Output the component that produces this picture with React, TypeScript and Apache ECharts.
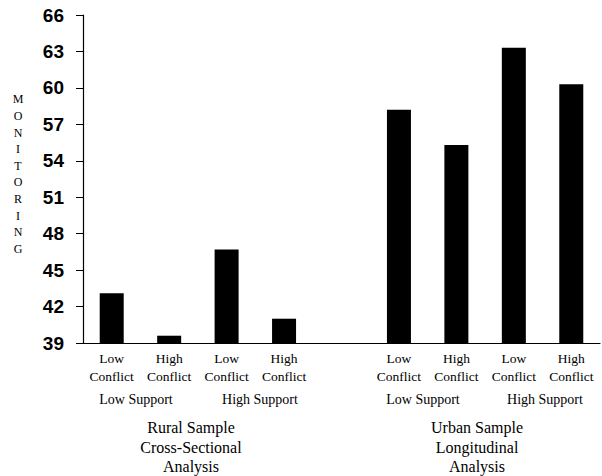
import React, { useEffect, useRef } from "react";
import * as echarts from "echarts";

const categories = [
  "Low\nConflict", "High\nConflict", "Low\nConflict", "High\nConflict",
  "",
  "Low\nConflict", "High\nConflict", "Low\nConflict", "High\nConflict",
];
const monitoring: (number | string)[] = [43.1, 39.6, 46.7, 41.0, "-", 58.2, 55.3, 63.3, 60.3];
const supportLabels = ["Low Support", "High Support", "Low Support", "High Support"];
const supportX = [136, 260, 423, 545];
const sampleLabels = ["Rural Sample\nCross-Sectional\nAnalysis", "Urban Sample\nLongitudinal\nAnalysis"];
const sampleX = [191, 477];
const yTitle = "MONITORING";

export default function App() {
  const ref = useRef<HTMLDivElement>(null);
  useEffect(() => {
    document.body.style.margin = "0";
    const chart = echarts.init(ref.current!, null, { renderer: "svg" });
    const serif = "'Liberation Serif', 'DejaVu Serif', serif";
    const graphics: any[] = [];
    supportLabels.forEach((t, i) => {
      graphics.push({
        type: "text", x: supportX[i], y: 399,
        style: { text: t, font: `14px ${serif}`, fill: "#000", textAlign: "center", textVerticalAlign: "middle" },
      });
    });
    sampleLabels.forEach((t, i) => {
      graphics.push({
        type: "text", x: sampleX[i], y: 418,
        style: { text: t, font: `16px ${serif}`, fill: "#000", textAlign: "center", lineHeight: 19.5 },
      });
    });
    graphics.push({
      type: "text", x: 18, y: 91,
      style: { text: yTitle.split("").join("\n"), font: `12px ${serif}`, fill: "#000", textAlign: "center", lineHeight: 16.6 },
    });
    chart.setOption({
      animation: false,
      grid: { left: 83, right: 2, top: 15, bottom: 133, containLabel: false },
      xAxis: {
        type: "category",
        data: categories,
        axisLine: { show: true, lineStyle: { color: "#000", width: 1.2 } },
        axisTick: { show: false },
        axisLabel: {
          interval: 0, margin: 6, color: "#000", fontSize: 13.5, lineHeight: 18,
          fontFamily: serif,
        },
      },
      yAxis: {
        type: "value",
        min: 39, max: 66, interval: 3,
        splitLine: { show: false },
        axisLine: { show: true, lineStyle: { color: "#000", width: 1.2 } },
        axisTick: { show: true, length: 7, lineStyle: { color: "#000" } },
        axisLabel: {
          margin: 19, color: "#000", fontSize: 19, fontWeight: "bold",
          fontFamily: "'Liberation Sans', Arial, sans-serif",
        },
      },
      series: [
        {
          type: "bar",
          data: monitoring,
          barWidth: 24,
          itemStyle: { color: "#000" },
        },
      ],
      graphic: graphics,
    });
    return () => chart.dispose();
  }, []);
  return <div ref={ref} style={{ width: 602, height: 476 }} />;
}
